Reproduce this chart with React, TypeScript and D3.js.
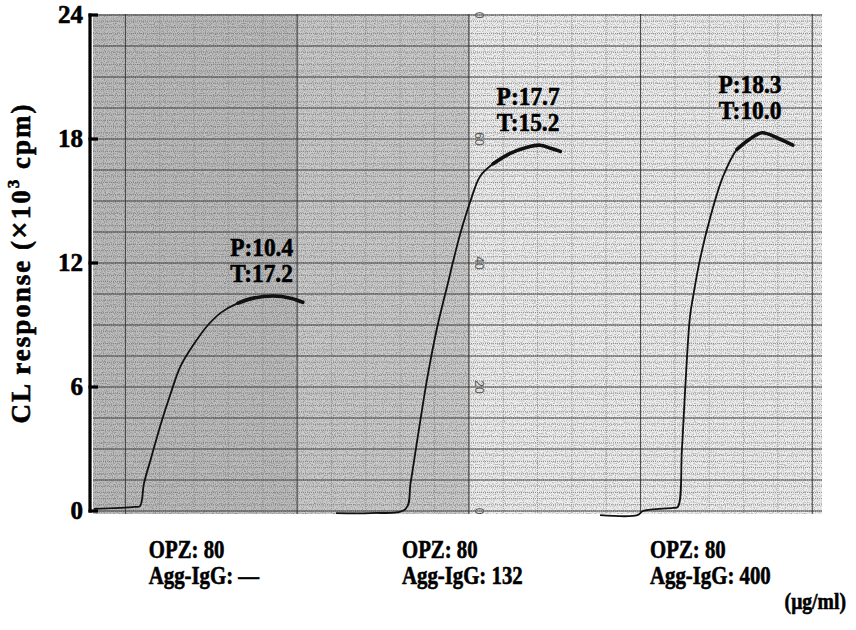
import React from 'react';
import * as d3 from 'd3';

// recorder traces: time (min) vs CL response (x10^3 cpm)
const curve1T = [0.1, 5.1, 5.8, 6.3, 7.2, 8.4, 9.6, 10.8, 12.5, 14.2, 15.8, 17.9, 19.8, 22.3, 24.4, 25.9];
const curve1V = [0.1, 0.2, 0.24, 1.35, 2.6, 4.25, 5.7, 7.0, 8.1, 9.0, 9.6, 10.06, 10.3, 10.4, 10.3, 10.1];

const curve2T = [30.0, 34.3, 38.6, 39.2, 40.1, 41.3, 42.5, 43.8, 44.6, 45.4, 46.6, 47.8, 49.4, 51.5, 53.6, 55.2, 56.5, 57.7];
const curve2V = [-0.1, -0.1, 0.1, 1.35, 3.6, 6.5, 8.9, 11.0, 12.3, 13.5, 15.0, 16.2, 16.8, 17.3, 17.6, 17.7, 17.55, 17.4];

const curve3T = [62.6, 67.2, 67.9, 71.6, 72.2, 72.7, 73.1, 73.7, 74.1, 74.9, 76.2, 77.8, 79.5, 81.1, 82.6, 84.5, 86.4];
const curve3V = [-0.2, -0.2, 0.0, 0.15, 0.2, 2.95, 5.85, 9.4, 10.4, 12.1, 14.2, 16.2, 17.5, 18.0, 18.3, 18.05, 17.7];

const peakLabels = ['P:10.4', 'P:17.7', 'P:18.3'];
const timeLabels = ['T:17.2', 'T:15.2', 'T:10.0'];
const opzLabels = ['OPZ: 80', 'OPZ: 80', 'OPZ: 80'];
const iggLabels = ['Agg-IgG: \u2014', 'Agg-IgG: 132', 'Agg-IgG: 400'];
const yTicks = [0, 6, 12, 18, 24];
const paperMarks = ['0', '20', '40', '60', '0'];
const paperMarkValues = [0, 6, 12, 18, 24];

const W = 856;
const H = 630;
const AX = 90;
const PAPER_L = 93;
const PAPER_R = 822;
const x = d3.scaleLinear().domain([0, 90]).range([PAPER_L, PAPER_R]);
const y = d3.scaleLinear().domain([0, 24]).range([511, 15]);

const serif = { fontFamily: "'Liberation Serif', 'DejaVu Serif', serif", fontWeight: 700 } as const;
const ink = { stroke: '#000', strokeWidth: 0.6 };

const series = [
  { t: curve1T, v: curve1V },
  { t: curve2T, v: curve2V },
  { t: curve3T, v: curve3V },
].map((s) => s.t.map((t, i) => ({ t, v: s.v[i] })));

const line = d3
  .line<{ t: number; v: number }>()
  .x((d) => x(d.t))
  .y((d) => y(d.v))
  .curve(d3.curveCatmullRom.alpha(0.5));

const majorX = d3.range(4, 90, 21.2);
const minorX = d3.range(0, 90, 21.2 / 5).map((d) => d + 4 - 21.2 / 5);
const majorY = d3.range(0, 24.01, 1.5);
const minorY = d3.range(0, 24.01, 0.3);

const squeeze = (lx: number, k: number) => `translate(${lx},0) scale(${k},1) translate(${-lx},0)`;

export default function App() {
  const top = y(24) - 1;
  const bottom = y(0) + 3;
  return (
    <svg width={W} height={H} style={{ position: 'absolute', left: 0, top: 0, background: '#fff' }}>
      <defs>
        <filter id="grain" x="0" y="0" width="100%" height="100%">
          <feTurbulence type="fractalNoise" baseFrequency="0.9" numOctaves="1" seed="3" />
          <feColorMatrix type="matrix" values="0 0 0 0 0  0 0 0 0 0  0 0 0 0 0  0 0 0 -2.6 1.45" />
        </filter>
      </defs>

      {/* chart paper */}
      <rect x={PAPER_L} y={top} width={x(25.5) - PAPER_L} height={bottom - top} fill="#bdbdbd" />
      <rect x={x(25.5)} y={top} width={x(46.6) - x(25.5)} height={bottom - top} fill="#cbcbcb" />
      <rect x={x(46.6)} y={top} width={PAPER_R - x(46.6)} height={bottom - top} fill="#eeeeee" />
      <rect x={PAPER_L} y={top} width={PAPER_R - PAPER_L} height={bottom - top} fill="#000" filter="url(#grain)" opacity={0.3} />

      {minorY.map((v, i) => (
        <line key={'my' + i} x1={PAPER_L} x2={PAPER_R} y1={y(v)} y2={y(v)} stroke="#7a7a7a" strokeWidth={0.8} strokeDasharray="1 1" />
      ))}
      {minorX.map((t, i) => (
        <line key={'mx' + i} x1={x(t)} x2={x(t)} y1={top} y2={bottom} stroke="#8a8a8a" strokeWidth={0.8} strokeDasharray="1 1" />
      ))}
      {majorY.map((v, i) => (
        <line key={'My' + i} x1={PAPER_L} x2={PAPER_R} y1={y(v)} y2={y(v)} stroke="#2a2a2a" strokeWidth={1.1} opacity={0.75} />
      ))}
      {majorX.map((t, i) => (
        <line key={'Mx' + i} x1={x(t)} x2={x(t)} y1={top} y2={bottom} stroke="#2a2a2a" strokeWidth={1} opacity={0.8} />
      ))}
      {paperMarks.map((m, i) => (
        <text
          key={'pm' + i}
          transform={`translate(${x(46.6) + 5},${y(paperMarkValues[i])}) rotate(90)`}
          style={{ fontFamily: "'Liberation Sans', sans-serif" }}
          fontSize={12}
          fill="#555"
          textAnchor="middle"
        >
          {m}
        </text>
      ))}

      {/* traces */}
      {series.map((s, i) => {
        const peak = d3.max(s, (d) => d.v) as number;
        const plateau = s.filter((d) => d.v > peak * 0.93);
        return (
          <g key={'c' + i}>
            <path d={line(s) as string} fill="none" stroke="#111" strokeWidth={1.8} />
            <path d={line(plateau) as string} fill="none" stroke="#111" strokeWidth={3.6} strokeLinecap="round" />
          </g>
        );
      })}

      {/* peak / time annotations */}
      {series.map((s, i) => {
        const pk = s.reduce((a, b) => (b.v > a.v ? b : a));
        const cx = x(pk.t) - 12;
        return (
          <g key={'a' + i} style={{ ...serif, ...ink }} fontSize={26} textAnchor="middle" fill="#000">
            <text x={cx} y={y(pk.v) - 40} transform={squeeze(cx, 0.9)}>{peakLabels[i]}</text>
            <text x={cx} y={y(pk.v) - 14} transform={squeeze(cx, 0.9)}>{timeLabels[i]}</text>
          </g>
        );
      })}

      {/* y axis */}
      <line x1={AX} x2={AX} y1={y(24) - 1.5} y2={y(0) + 1.5} stroke="#000" strokeWidth={3.2} />
      {yTicks.map((v) => (
        <g key={'yt' + v}>
          <line x1={AX - 1.5} x2={AX + 8} y1={y(v)} y2={y(v)} stroke="#000" strokeWidth={3.2} />
          <text x={AX - 7} y={y(v) + 8} textAnchor="end" style={{ ...serif, ...ink }} fontSize={25}>
            {v}
          </text>
        </g>
      ))}
      <text
        transform={`translate(30,${(y(0) + y(24)) / 2}) rotate(-90)`}
        textAnchor="middle"
        style={{ ...serif, ...ink, letterSpacing: 2 }}
        fontSize={27}
      >
        {'CL  response ('}
        <tspan fontSize={31}>×</tspan>
        {'10'}
        <tspan fontSize={17} dy={-11}>3</tspan>
        <tspan dy={11}>{' cpm)'}</tspan>
      </text>

      {/* conditions */}
      {series.map((s, i) => {
        const lx = x(s[0].t) + [55, 66, 50][i];
        return (
          <g key={'l' + i} style={{ ...serif, ...ink }} fontSize={26} fill="#000">
            <text x={lx} y={558} transform={squeeze(lx, 0.8)}>{opzLabels[i]}</text>
            <text x={lx} y={584} transform={squeeze(lx, 0.8)}>{iggLabels[i]}</text>
          </g>
        );
      })}
      <text x={846} y={609} textAnchor="end" style={{ ...serif, ...ink }} fontSize={24} transform={squeeze(846, 0.82)}>
        (μg/ml)
      </text>
    </svg>
  );
}
